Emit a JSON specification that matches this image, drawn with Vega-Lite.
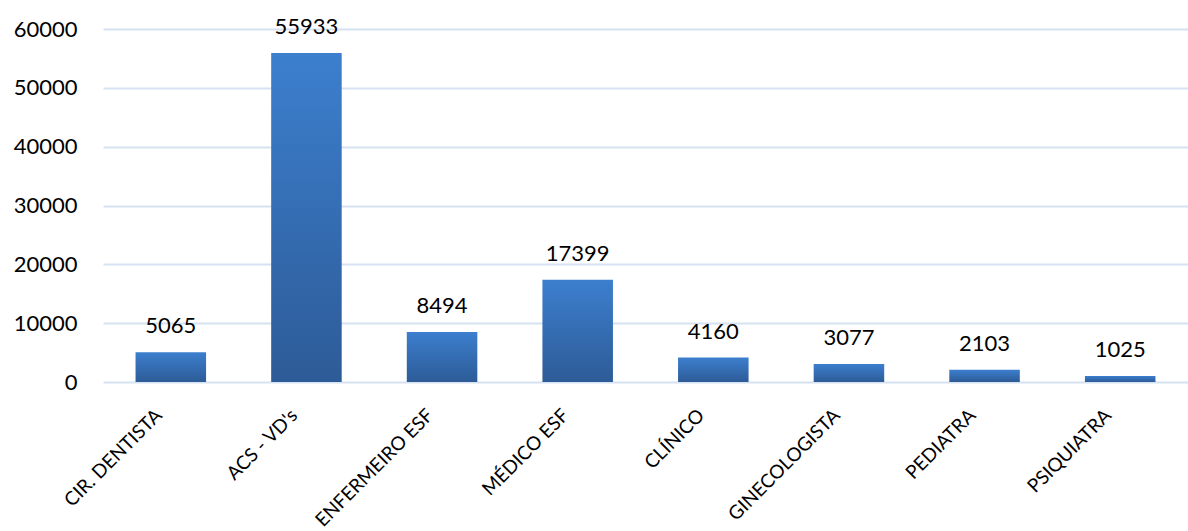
{
  "$schema": "https://vega.github.io/schema/vega-lite/v6.json",
  "width": 1085,
  "height": 353,
  "autosize": {"type": "none"},
  "padding": {"left": 103, "top": 29, "right": 0, "bottom": 149},
  "background": "white",
  "config": {"view": {"stroke": null}, "font": "Lato"},
  "data": {"values": [
    {"cat": "CIR. DENTISTA", "v": 5065},
    {"cat": "ACS - VD's", "v": 55933},
    {"cat": "ENFERMEIRO ESF", "v": 8494},
    {"cat": "MÉDICO ESF", "v": 17399},
    {"cat": "CLÍNICO", "v": 4160},
    {"cat": "GINECOLOGISTA", "v": 3077},
    {"cat": "PEDIATRA", "v": 2103},
    {"cat": "PSIQUIATRA", "v": 1025}
  ]},
  "encoding": {
    "x": {"field": "cat", "type": "nominal", "sort": null, "title": null,
      "scale": {"paddingInner": 0.48, "paddingOuter": 0.24},
      "axis": {"labelAngle": -45, "labelAlign": "right", "labelBaseline": "middle", "labelFontSize": 19, "labelColor": "#000000", "domain": false, "ticks": false, "labelPadding": 30, "labelOffset": -12, "labelFont": "Lato"}},
    "y": {"field": "v", "type": "quantitative", "title": null,
      "scale": {"domain": [0, 60000]},
      "axis": {"values": [0, 10000, 20000, 30000, 40000, 50000, 60000], "labelFontSize": 22, "labelColor": "#000000", "domain": false, "ticks": false, "labelPadding": 26, "gridColor": "#D6E2F1", "gridWidth": 2, "format": "d", "labelFont": "Lato"}}
  },
  "layer": [
    {"mark": {"type": "bar", "color": {"gradient": "linear", "x1": 0, "y1": 0, "x2": 0, "y2": 1, "stops": [{"offset": 0, "color": "#3C7FCE"}, {"offset": 1, "color": "#2D5B97"}]}}},
    {"mark": {"type": "text", "baseline": "alphabetic", "dy": -19, "fontSize": 22, "color": "#000000", "font": "Lato"},
      "encoding": {"text": {"field": "v", "type": "quantitative", "format": "d"}}}
  ]
}
